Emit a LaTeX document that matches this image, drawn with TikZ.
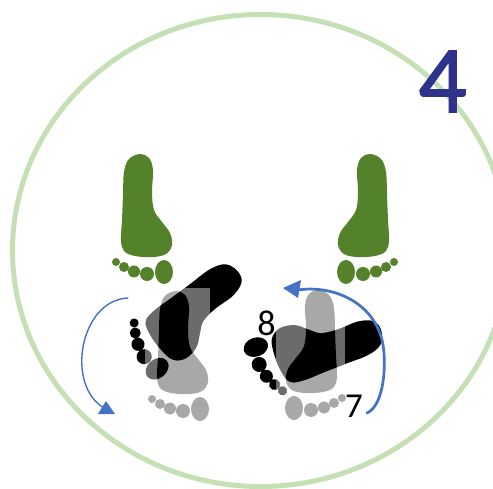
\documentclass[tikz,border=0pt]{standalone}
\usepackage{fontspec}
\newfontfamily\calib{Carlito}
\newfontfamily\calibheavy[FakeBold=1.6]{Carlito}
\definecolor{ringgreen}{RGB}{197,224,180}
\definecolor{footgreen}{RGB}{84,130,42}
\definecolor{footgray}{RGB}{168,168,168}
\definecolor{arrowblue}{RGB}{68,114,196}
\definecolor{numblue}{RGB}{47,50,140}

% one footprint (sole and toes), heel up, toes down, big toe on the right
\newcommand{\soleshape}{plot[smooth cycle,tension=0.6] coordinates {(-3,-66) (-14,-61) (-19,-48) (-20,-25) (-21,0) (-22,20) (-19,31) (-8,36) (10,37) (23,34) (29,25) (27,13) (19,2) (11,-10) (9,-28) (10,-50) (6,-62)}}
% a slightly fuller print for the black steps
\newcommand{\fatsoleshape}{plot[smooth cycle,tension=0.6] coordinates {(-3,-69) (-16,-64) (-22,-49) (-23,-25) (-24,0) (-25,20) (-22,34) (-9,39) (10,40) (25,37) (32,26) (30,11) (21,-1) (14,-11) (12,-28) (13,-50) (8,-65)}}
\newcommand{\toeshape}{(-27,42) circle[radius=4pt] (-19,47) circle[radius=5pt] (-9,51.5) circle[radius=6pt] (4,54) circle[radius=7pt] (21,52) ellipse[x radius=9pt,y radius=12pt]}
\newcommand{\fattoeshape}{(-28,44) circle[radius=4.5pt] (-19.5,49.5) circle[radius=5.5pt] (-9,54.5) circle[radius=6.5pt] (4.5,57.5) circle[radius=7.5pt] (22,55) ellipse[x radius=9.5pt,y radius=12.5pt]}

\tikzset{
  greenL/.style={shift={(143,220)}},
  greenR/.style={shift={(367,220)},xscale=-1},
  grayL/.style={shift={(179,357)}},
  grayR/.style={shift={(315,356)},xscale=-1},
  blackL/.style={shift={(186,317)},rotate=-51},
  blackR/.style={shift={(315,350)},rotate=-71,xscale=-1},
  digit/.style={inner sep=0pt,anchor=base},
  turn/.style={draw=arrowblue,line cap=round},
}

\begin{document}
\begin{tikzpicture}[x=1pt,y=-1pt]
\useasboundingbox (0,0) rectangle (493,489);
\fill[white] (0,0) rectangle (493,489);
\clip (0,0) rectangle (493,489);

% outer ring
\draw[ringgreen,line width=5pt] (260.5,250.5) ellipse[x radius=248pt,y radius=236pt];

% green footprints
\fill[footgreen,greenL] \soleshape \toeshape;
\fill[footgreen,greenR] \soleshape \toeshape;

% grey footprints
\fill[footgray,grayL] \soleshape \toeshape;
\fill[footgray,grayR] \soleshape \toeshape;

% black footprints, turned
\fill[black,blackL] \fatsoleshape \fattoeshape;
\fill[black,blackR] \fatsoleshape \fattoeshape;

% lighter shading of the black prints inside the grey prints' frames
\begin{scope}
  \clip[blackL] \fatsoleshape \fattoeshape;
  \fill[white,opacity=.42] (145,288) rectangle (210,425);
  \fill[black,grayL] \soleshape;
\end{scope}
\begin{scope}
  \clip[blackR] \fatsoleshape \fattoeshape;
  \fill[white,opacity=.42] (276,288) rectangle (345,425);
  \fill[black,grayR] \soleshape;
\end{scope}

% turning arrows
\coordinate (la0) at (128,298);
\coordinate (la1) at (104,408);
\draw[turn,line width=1.4pt] (la0) .. controls (80,300) and (65,385) .. (la1);
\fill[arrowblue] (98,414) -- (115,414) -- (106,401) -- cycle;

\coordinate (ra0) at (367,413);
\coordinate (ram) at (382,340);
\coordinate (ra1) at (298,290);
\draw[turn,line width=2.7pt] (ra0) .. controls (385,405) and (387,360) .. (ram)
  .. controls (372,300) and (330,285) .. (ra1);
\fill[arrowblue] (283,288) -- (301,280) -- (298,298) -- cycle;

% numbers
\node[digit,text=numblue,font=\calibheavy\fontsize{95}{95}\selectfont] (four) at (442.5,112) {4};
\node[digit,font=\calib\fontsize{36}{36}\selectfont] (eight) at (266.5,335) {8};
\node[digit,font=\calib\fontsize{35}{35}\selectfont] (seven) at (354,417) {7};
\end{tikzpicture}
\end{document}
